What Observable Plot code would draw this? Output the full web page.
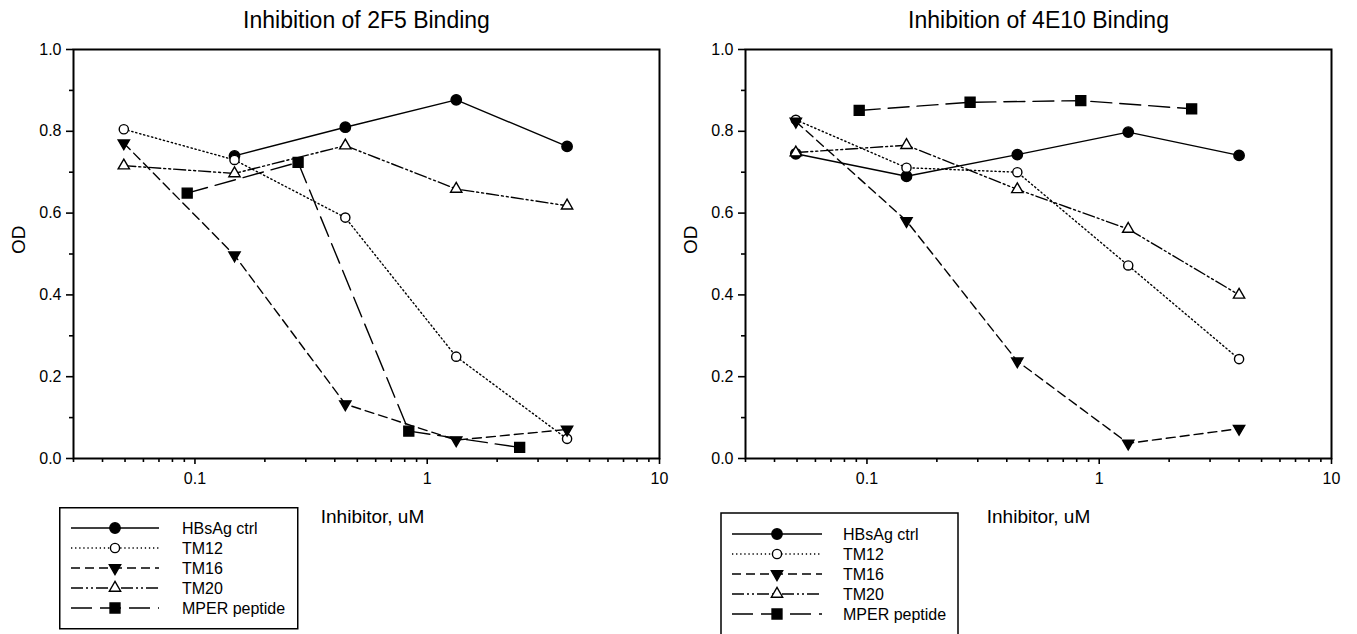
<!DOCTYPE html>
<html>
<head>
<meta charset="utf-8">
<script src="https://cdn.jsdelivr.net/npm/d3@7"></script>
<script src="https://cdn.jsdelivr.net/npm/@observablehq/plot@0.6"></script>
<style>
  body { margin: 0; background: #fff; font-family: "Liberation Sans", Arial, sans-serif; }
  #wrap { position: relative; width: 1357px; height: 634px; overflow: hidden; background: #fff; }
  .panel { position: absolute; top: 0; }
  #legend { position: absolute; left: 0; top: 0; }
</style>
</head>
<body>
<div id="wrap"></div>
<script>
// ---------- data ----------
const seriesNames = ["HBsAg ctrl", "TM12", "TM16", "TM20", "MPER peptide"];
const conc = [0.0494, 0.148, 0.444, 1.333, 4.0];     // uM, 3-fold dilutions
const concMPER = [0.0926, 0.278, 0.833, 2.5];        // uM, MPER peptide

const od2F5_HBsAg = [null, 0.740, 0.810, 0.877, 0.763];
const od2F5_TM12  = [0.805, 0.730, 0.589, 0.249, 0.048];
const od2F5_TM16  = [0.771, 0.497, 0.133, 0.045, 0.071];
const od2F5_TM20  = [0.716, 0.697, 0.765, 0.659, 0.618];
const od2F5_MPER  = [0.649, 0.724, 0.067, 0.027];

const od4E10_HBsAg = [0.745, 0.690, 0.743, 0.798, 0.741];
const od4E10_TM12  = [0.828, 0.711, 0.700, 0.472, 0.243];
const od4E10_TM16  = [0.824, 0.581, 0.238, 0.037, 0.073];
const od4E10_TM20  = [0.748, 0.766, 0.658, 0.561, 0.400];
const od4E10_MPER  = [0.851, 0.871, 0.875, 0.855];

const yTicks = [0, 0.2, 0.4, 0.6, 0.8, 1.0];
const yMinorTicks = [0.1, 0.3, 0.5, 0.7, 0.9];
const xTicks = [0.1, 1, 10];
const xMinorTicks = [0.03, 0.04, 0.05, 0.06, 0.07, 0.08, 0.09, 0.2, 0.3, 0.4, 0.5, 0.6, 0.7, 0.8, 0.9, 2, 3, 4, 5, 6, 7, 8, 9];

// ---------- styles ----------
const styles = {
  "HBsAg ctrl":   { dash: null,                 symbol: "circle",   fill: "black", r: 5.2, rotate: 0 },
  "TM12":         { dash: "1.3,2.8",            symbol: "circle",   fill: "white", r: 4.6, rotate: 0 },
  "TM16":         { dash: "9,5",                symbol: "triangle", fill: "black", r: 4.2, rotate: 180 },
  "TM20":         { dash: "12,3,2,3,2,3",       symbol: "triangle", fill: "white", r: 4.2, rotate: 0 },
  "MPER peptide": { dash: "21,8",               symbol: "square",   fill: "black", r: 5.6, rotate: 0 }
};
const FONT = "'Liberation Sans', Arial, Helvetica, sans-serif";

function buildRows(values) {
  const rows = [];
  seriesNames.forEach((s, i) => {
    const xs = s === "MPER peptide" ? concMPER : conc;
    values[i].forEach((v, j) => { if (v != null) rows.push({ series: s, conc: xs[j], od: v }); });
  });
  return rows;
}

function panel({ title, rows, left, width, marginRight, xLabelDx }) {
  const marks = [];
  for (const s of seriesNames) {
    const st = styles[s];
    marks.push(Plot.line(rows.filter(r => r.series === s), {
      x: "conc", y: "od", stroke: "black", strokeWidth: 1.4,
      strokeDasharray: st.dash, strokeLinejoin: "miter"
    }));
  }
  for (const s of seriesNames) {
    const st = styles[s];
    marks.push(Plot.dot(rows.filter(r => r.series === s), {
      x: "conc", y: "od", symbol: st.symbol, r: st.r, rotate: st.rotate,
      fill: st.fill, stroke: "black", strokeWidth: 1.4
    }));
  }
  const chart = Plot.plot({
    width, height: 540,
    marginLeft: 73, marginRight, marginTop: 49, marginBottom: 82,
    x: { type: "log", domain: [0.03, 10] },
    y: { domain: [0, 1] },
    style: { fontFamily: FONT, fontSize: "16px", background: "transparent", color: "black", overflow: "visible" },
    marks: [
      ...marks,
      Plot.frame({ stroke: "black", strokeWidth: 2 }),
      Plot.axisY({ ticks: yTicks, tickSize: 7, tickPadding: 5, tickFormat: d3.format(".1f"),
                   fontSize: 16, label: null, strokeWidth: 1.6 }),
      Plot.axisY({ ticks: yMinorTicks, tickSize: 4, tickFormat: () => "", label: null, strokeWidth: 1.6 }),
      Plot.axisX({ ticks: xTicks, tickSize: 6, tickPadding: 8, tickFormat: d => String(d),
                   fontSize: 16, label: null, strokeWidth: 1.6 }),
      Plot.axisX({ ticks: xMinorTicks, tickSize: 4, tickFormat: () => "", label: null, strokeWidth: 1.6 }),
      Plot.text([title], { text: d => d, frameAnchor: "top", dy: -22, lineAnchor: "bottom", fontSize: 23 }),
      Plot.text(["Inhibitor, uM"], { text: d => d, frameAnchor: "bottom", dy: 64, dx: xLabelDx, lineAnchor: "bottom", fontSize: 19 }),
      Plot.text(["OD"], { text: d => d, frameAnchor: "left", dx: -55, rotate: -90, lineAnchor: "middle", fontSize: 19 })
    ]
  });
  chart.classList.add("panel");
  chart.style.left = left + "px";
  return chart;
}

const wrap = document.getElementById("wrap");
wrap.appendChild(panel({
  title: "Inhibition of 2F5 Binding",
  rows: buildRows([od2F5_HBsAg, od2F5_TM12, od2F5_TM16, od2F5_TM20, od2F5_MPER]),
  left: 0, width: 686, marginRight: 27, xLabelDx: 6
}));
wrap.appendChild(panel({
  title: "Inhibition of 4E10 Binding",
  rows: buildRows([od4E10_HBsAg, od4E10_TM12, od4E10_TM16, od4E10_TM20, od4E10_MPER]),
  left: 672, width: 685, marginRight: 26, xLabelDx: 0
}));

// ---------- legends ----------
const svg = d3.select(wrap).append("svg")
  .attr("id", "legend").attr("width", 1357).attr("height", 634)
  .style("font-family", FONT).style("pointer-events", "none");

function legend(box, rowY0, lineX1, lineX2, markX, textX) {
  const g = svg.append("g");
  g.append("rect").attr("x", box.x).attr("y", box.y).attr("width", box.w).attr("height", box.h)
    .attr("fill", "white").attr("stroke", "black").attr("stroke-width", 1.5);
  seriesNames.forEach((s, i) => {
    const st = styles[s];
    const y = rowY0 + i * 20;
    g.append("line").attr("x1", lineX1).attr("x2", lineX2).attr("y1", y).attr("y2", y)
      .attr("stroke", "black").attr("stroke-width", 1.4)
      .attr("stroke-dasharray", st.dash);
    const sym = st.symbol === "circle" ? d3.symbolCircle : st.symbol === "square" ? d3.symbolSquare : d3.symbolTriangle;
    g.append("path").attr("d", d3.symbol(sym, Math.PI * st.r * st.r)())
      .attr("transform", `translate(${markX},${y}) rotate(${st.rotate})`)
      .attr("fill", st.fill).attr("stroke", "black").attr("stroke-width", 1.4);
    g.append("text").attr("x", textX).attr("y", y).attr("dy", "0.35em")
      .attr("font-size", 16).attr("fill", "black").text(s);
  });
}
legend({ x: 59.75, y: 507.75, w: 238, h: 121 }, 528, 71, 159, 115, 182);
legend({ x: 721, y: 513, w: 237, h: 140 }, 534, 732, 822, 777, 843);
</script>
</body>
</html>
